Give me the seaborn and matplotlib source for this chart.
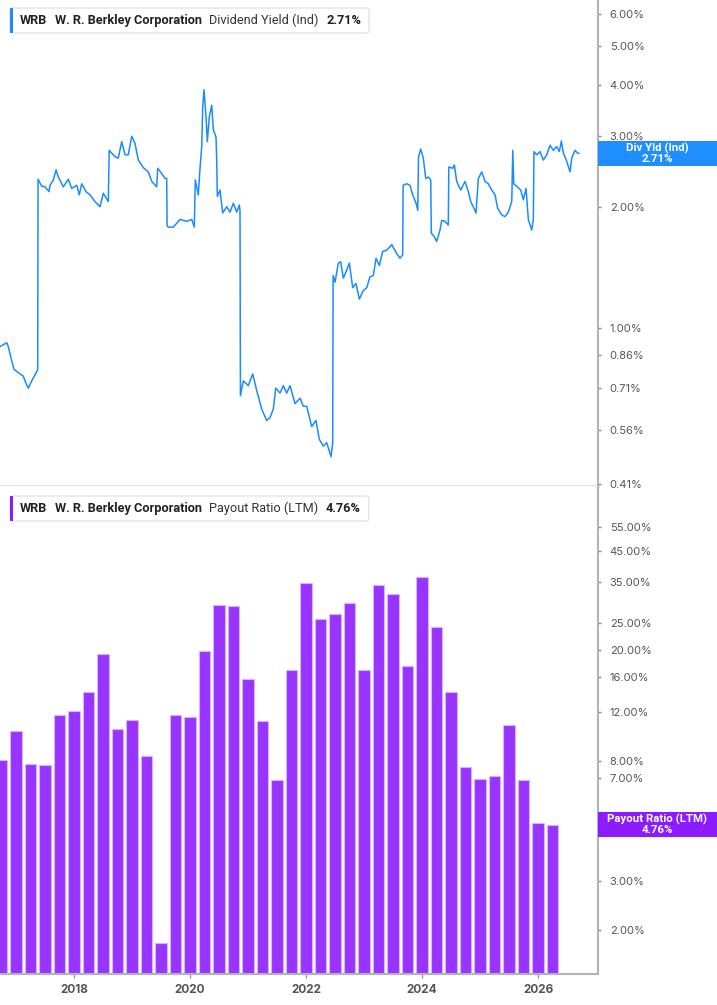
import matplotlib
matplotlib.use("Agg")
import matplotlib.pyplot as plt
from matplotlib.patches import FancyBboxPatch, Rectangle
from matplotlib.ticker import NullLocator
import pandas as pd
import seaborn as sns

TICKER = "WRB"
COMPANY = "W. R. Berkley Corporation"

# dividend yield (indicated), % -- time in decimal years
yield_years = [
    2016.724, 2016.781, 2016.840, 2016.867, 2016.926, 2016.966, 2017.069, 2017.126, 2017.172, 2017.212,
    2017.271, 2017.357, 2017.374, 2017.380, 2017.443, 2017.500, 2017.569, 2017.586, 2017.643, 2017.690,
    2017.729, 2017.816, 2017.902, 2017.960, 2018.047, 2018.091, 2018.133, 2018.207, 2018.276, 2018.362,
    2018.448, 2018.505, 2018.591, 2018.607, 2018.707, 2018.764, 2018.822, 2018.879, 2018.936, 2018.995,
    2019.052, 2019.109, 2019.195, 2019.281, 2019.340, 2019.426, 2019.443, 2019.512, 2019.569, 2019.598,
    2019.605, 2019.626, 2019.712, 2019.828, 2019.943, 2020.029, 2020.074, 2020.091, 2020.143, 2020.172,
    2020.202, 2020.219, 2020.241, 2020.276, 2020.298, 2020.333, 2020.374, 2020.402, 2020.448, 2020.460,
    2020.471, 2020.517, 2020.564, 2020.633, 2020.690, 2020.747, 2020.805, 2020.850, 2020.862, 2020.869,
    2020.919, 2021.005, 2021.081, 2021.150, 2021.236, 2021.322, 2021.379, 2021.436, 2021.478, 2021.552,
    2021.609, 2021.667, 2021.724, 2021.810, 2021.897, 2021.953, 2022.012, 2022.098, 2022.172, 2022.229,
    2022.298, 2022.357, 2022.431, 2022.460, 2022.467, 2022.500, 2022.557, 2022.598, 2022.643, 2022.690,
    2022.747, 2022.805, 2022.862, 2022.919, 2022.988, 2023.047, 2023.103, 2023.160, 2023.207, 2023.264,
    2023.322, 2023.391, 2023.478, 2023.564, 2023.621, 2023.667, 2023.674, 2023.736, 2023.793, 2023.840,
    2023.897, 2023.926, 2023.940, 2023.978, 2024.022, 2024.064, 2024.109, 2024.150, 2024.160, 2024.207,
    2024.253, 2024.310, 2024.340, 2024.397, 2024.453, 2024.462, 2024.529, 2024.557, 2024.598, 2024.667,
    2024.741, 2024.798, 2024.840, 2024.897, 2024.931, 2024.971, 2025.029, 2025.086, 2025.143, 2025.202,
    2025.259, 2025.305, 2025.374, 2025.431, 2025.488, 2025.547, 2025.565, 2025.582, 2025.643, 2025.702,
    2025.747, 2025.793, 2025.833, 2025.891, 2025.919, 2025.930, 2025.978, 2026.034, 2026.091, 2026.150,
    2026.207, 2026.264, 2026.322, 2026.367, 2026.402, 2026.436, 2026.495, 2026.552, 2026.581, 2026.638,
    2026.678, 2026.707,
]
yield_values = [
    0.90, 0.91, 0.92, 0.90, 0.83, 0.79, 0.77, 0.76, 0.73, 0.71,
    0.74, 0.78, 0.79, 2.34, 2.25, 2.24, 2.18, 2.26, 2.33, 2.47,
    2.37, 2.24, 2.34, 2.22, 2.26, 2.14, 2.28, 2.18, 2.14, 2.06,
    2.00, 2.16, 2.06, 2.76, 2.66, 2.64, 2.90, 2.69, 2.69, 2.99,
    2.87, 2.61, 2.50, 2.44, 2.31, 2.24, 2.49, 2.42, 2.35, 2.35,
    1.79, 1.78, 1.78, 1.86, 1.84, 1.86, 1.78, 2.33, 2.14, 2.49,
    2.82, 3.54, 3.90, 3.34, 2.90, 3.34, 3.57, 3.10, 2.98, 2.61,
    2.12, 2.20, 1.93, 2.00, 1.94, 2.04, 1.94, 2.02, 1.95, 0.68,
    0.74, 0.72, 0.77, 0.70, 0.63, 0.59, 0.60, 0.63, 0.71, 0.69,
    0.72, 0.69, 0.72, 0.65, 0.67, 0.64, 0.64, 0.57, 0.59, 0.53,
    0.51, 0.52, 0.48, 0.52, 1.35, 1.30, 1.45, 1.46, 1.33, 1.38,
    1.45, 1.26, 1.29, 1.18, 1.24, 1.26, 1.34, 1.35, 1.49, 1.43,
    1.55, 1.56, 1.61, 1.53, 1.49, 1.52, 2.26, 2.28, 2.26, 2.14,
    2.04, 1.96, 2.66, 2.78, 2.64, 2.35, 2.37, 2.33, 1.72, 1.69,
    1.64, 1.75, 1.85, 1.84, 1.80, 2.51, 2.49, 2.54, 2.31, 2.20,
    2.31, 2.18, 2.06, 1.98, 1.93, 2.35, 2.44, 2.31, 2.28, 2.20,
    2.14, 1.98, 1.91, 1.89, 1.94, 2.06, 2.76, 2.28, 2.24, 2.20,
    2.08, 2.22, 1.86, 1.75, 1.86, 2.74, 2.69, 2.74, 2.61, 2.69,
    2.84, 2.76, 2.82, 2.74, 2.91, 2.72, 2.59, 2.44, 2.64, 2.76,
    2.72, 2.71,
]
yield_last = 2.71
yield_ticks = [0.41, 0.56, 0.71, 0.86, 1.0, 2.0, 3.0, 4.0, 5.0, 6.0]

# payout ratio (LTM), %, one bar per quarter
payout_quarters = [
    "2016Q3", "2016Q4",
    "2017Q1", "2017Q2", "2017Q3", "2017Q4",
    "2018Q1", "2018Q2", "2018Q3", "2018Q4",
    "2019Q1", "2019Q2", "2019Q3", "2019Q4",
    "2020Q1", "2020Q2", "2020Q3", "2020Q4",
    "2021Q1", "2021Q2", "2021Q3", "2021Q4",
    "2022Q1", "2022Q2", "2022Q3", "2022Q4",
    "2023Q1", "2023Q2", "2023Q3", "2023Q4",
    "2024Q1", "2024Q2", "2024Q3", "2024Q4",
    "2025Q1", "2025Q2", "2025Q3", "2025Q4",
    "2026Q1",
]
payout_values = [
    8.11, 10.29,
    7.81, 7.76, 11.73, 12.13,
    14.13, 19.40, 10.43, 11.20,
    8.39, 1.80, 11.67, 11.54,
    19.88, 29.00, 28.76, 15.81,
    11.14, 6.89, 17.02, 34.70,
    25.80, 26.90, 29.50, 17.00,
    34.20, 31.60, 17.50, 36.40,
    24.20, 14.13, 7.66, 6.90,
    7.11, 10.81, 6.89, 4.82,
    4.76,
]
payout_last = 4.76
# the 5.00% tick sits under the last-value box, so it is left out
payout_ticks = [2, 3, 7, 8, 12, 16, 20, 25, 35, 45, 55]

year_ticks = [2018, 2020, 2022, 2024, 2026]

BLUE = "#1a8cff"
BLUE_BOX = "#1f8fff"
PURPLE = "#9933ff"
PURPLE_BOX = "#8a1cff"
AXIS_GREY = "#b3b3b3"
TEXT_GREY = "#555555"

W, H = 717, 1005


def fx(px):
    return px / W


def fy(py):
    return 1 - py / H


sns.set_theme(style="white")
plt.rcParams["font.family"] = ["Inter", "DejaVu Sans"]
LABEL_FONT = ["Roboto", "DejaVu Sans"]

fig = plt.figure(figsize=(W / 100, H / 100), dpi=100)
ax1 = fig.add_axes([0, fy(486), fx(598), fy(0) - fy(486)])
ax2 = fig.add_axes([0, fy(974), fx(598), fy(486) - fy(974)])

x_lim = (2016.724, 2027.034)

# --- dividend yield line ---
sns.lineplot(x=yield_years, y=yield_values, ax=ax1, color=BLUE, linewidth=1.1)
ax1.set_yscale("log")
ax1.set_ylim(0.406, 6.51)
ax1.set_xlim(*x_lim)
ax1.set_xticks([])

# --- payout ratio bars ---
per = pd.PeriodIndex(payout_quarters, freq="Q")
payout_pos = per.year + per.quarter / 4
sns.barplot(x=payout_pos, y=payout_values, ax=ax2, native_scale=True, orient="x",
            color=PURPLE, saturation=1, width=0.8, edgecolor="#d6b3ff", linewidth=0.8,
            errorbar=None)
ax2.set_yscale("log")
ax2.set_ylim(1.395, 76.9)
ax2.set_xlim(*x_lim)
ax2.set_xticks(year_ticks)
ax2.set_xticklabels([str(y) for y in year_ticks], fontweight="bold")
ax2.tick_params(axis="x", bottom=True, length=3, width=1, color="#999999", pad=4,
                labelsize=8.5, labelcolor=TEXT_GREY)

for ax, ticks in [(ax1, yield_ticks), (ax2, payout_ticks)]:
    ax.set_xlabel("")
    ax.set_ylabel("")
    ax.grid(False)
    ax.yaxis.tick_right()
    ax.set_yticks(ticks)
    ax.set_yticklabels([f"{t:.2f}%" for t in ticks])
    ax.yaxis.set_minor_locator(NullLocator())
    ax.tick_params(axis="y", right=True, left=False, labelright=True, labelleft=False,
                   length=2.5, width=1, color="#888888", pad=6, labelsize=8,
                   labelcolor=TEXT_GREY)
    ax.spines["left"].set_visible(False)
    ax.spines["top"].set_visible(False)
    ax.spines["right"].set_color(AXIS_GREY)
    ax.spines["right"].set_linewidth(1.5)

ax1.spines["bottom"].set_color("#dddddd")
ax1.spines["bottom"].set_linewidth(2)
ax2.spines["bottom"].set_color(AXIS_GREY)
ax2.spines["bottom"].set_linewidth(1.5)


# --- last value boxes on the right axis ---
def value_box(ax, value, label, color):
    y_disp = ax.transData.transform((x_lim[0], value))[1]
    yc = y_disp / fig.bbox.height
    h = 25 / H
    fig.add_artist(Rectangle((fx(598), yc - h / 2), fx(717) - fx(598), h,
                             transform=fig.transFigure, facecolor=color,
                             edgecolor="none", zorder=5))
    fig.text(fx(657), yc, f"{label}\n{value:.2f}%", ha="center", va="center",
             color="white", fontsize=8.2, fontweight="bold", linespacing=1.0,
             family=LABEL_FONT, zorder=6)


value_box(ax1, yield_last, "Div Yld (Ind)", BLUE_BOX)
value_box(ax2, payout_last, "Payout Ratio (LTM)", PURPLE_BOX)


# --- legend boxes top-left of each panel ---
renderer = fig.canvas.get_renderer()


def legend_box(top, pieces, color):
    yc = fy(top + 12.5)
    x = 20
    right = x
    for text, weight, col in pieces:
        t = fig.text(fx(x), yc, text, ha="left", va="center", fontsize=9.2,
                     fontweight=weight, color=col, family=LABEL_FONT, zorder=6)
        bb = t.get_window_extent(renderer)
        right = bb.x1
        x = right + 7.5
    fig.add_artist(FancyBboxPatch((fx(10), fy(top + 25)), fx(right + 8) - fx(10), 25 / H,
                                  boxstyle="round,pad=0,rounding_size=0.003",
                                  transform=fig.transFigure, facecolor="white",
                                  edgecolor="#e4e4e4", linewidth=1, zorder=4))
    fig.add_artist(Rectangle((fx(10), fy(top + 25)), 3 / W, 25 / H,
                             transform=fig.transFigure, facecolor=color,
                             edgecolor="none", zorder=5))


legend_box(8, [(TICKER, "bold", "#222222"), (COMPANY, "bold", "#222222"),
               ("Dividend Yield (Ind)", "normal", "#333333"),
               (f"{yield_last:.2f}%", "bold", "#222222")], BLUE)
legend_box(496, [(TICKER, "bold", "#222222"), (COMPANY, "bold", "#222222"),
                 ("Payout Ratio (LTM)", "normal", "#333333"),
                 (f"{payout_last:.2f}%", "bold", "#222222")], PURPLE_BOX)

fig.savefig("out.png", dpi=100)
